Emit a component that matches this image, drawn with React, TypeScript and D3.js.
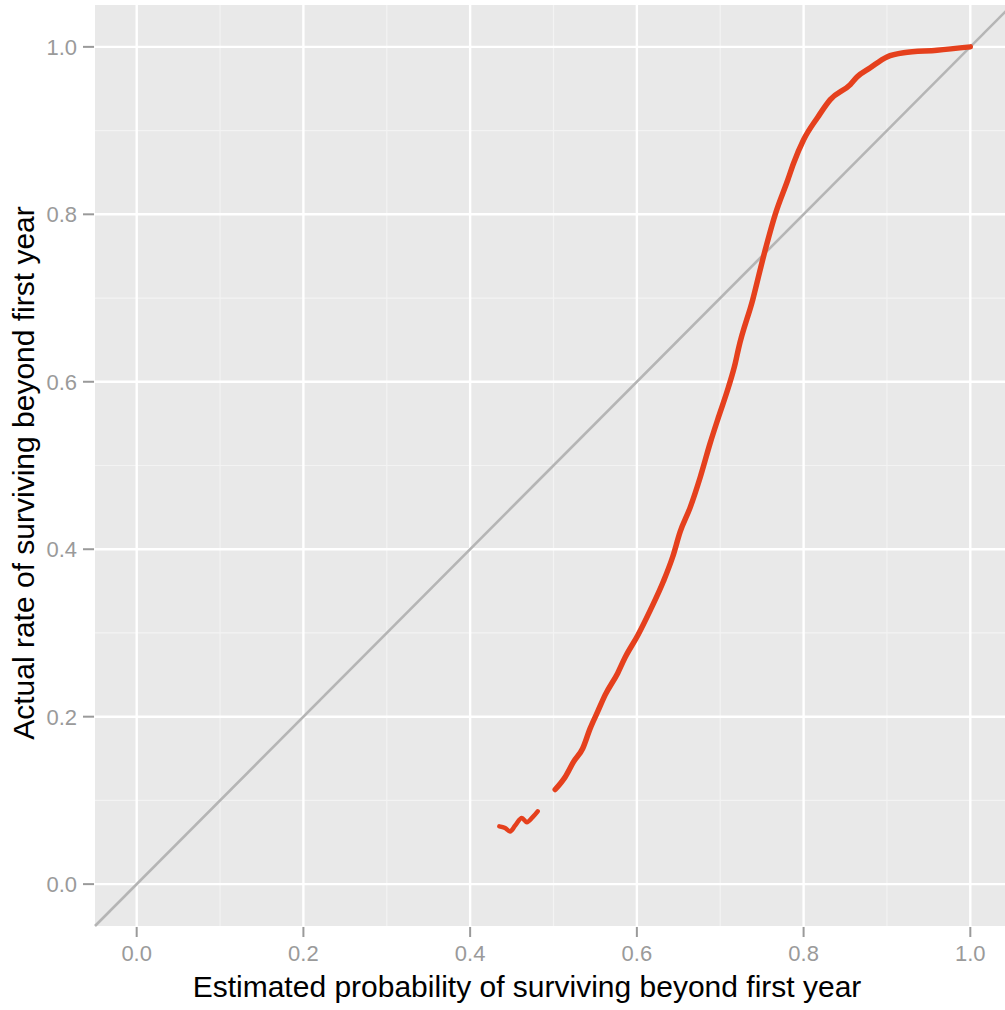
import React, { useRef, useEffect } from 'react';
import * as d3 from 'd3';

// sparse low-end cluster (estimated prob, actual rate)
const lowX = [0.435, 0.442, 0.448, 0.454, 0.462, 0.468, 0.475, 0.481];
const lowY = [0.069, 0.067, 0.063, 0.070, 0.079, 0.074, 0.080, 0.087];

// main calibration curve
const mainX = [0.502, 0.514, 0.524, 0.535, 0.544, 0.553, 0.562, 0.577, 0.586, 0.601, 0.616, 0.632, 0.643,
  0.652, 0.664, 0.676, 0.688, 0.698, 0.710, 0.718, 0.722, 0.739, 0.752, 0.766, 0.781, 0.788, 0.800,
  0.817, 0.832, 0.856, 0.864, 0.880, 0.900, 0.920, 0.960, 1.0];
const mainY = [0.113, 0.128, 0.146, 0.162, 0.186, 0.206, 0.226, 0.252, 0.271, 0.297, 0.327, 0.362, 0.391,
  0.421, 0.450, 0.486, 0.527, 0.558, 0.594, 0.622, 0.640, 0.698, 0.750, 0.800, 0.841, 0.861, 0.889,
  0.916, 0.937, 0.955, 0.964, 0.975, 0.988, 0.993, 0.996, 1.0];

const majorTicks = [0, 0.2, 0.4, 0.6, 0.8, 1.0];
const minorTicks = [0.1, 0.3, 0.5, 0.7, 0.9];
const domain: [number, number] = [-0.05, 1.05];

const App = () => {
  const svgRef = useRef<SVGSVGElement>(null);

  useEffect(() => {
    const svg = d3.select(svgRef.current);
    svg.selectAll('*').remove();

    const width = 1005;
    const height = 1010;
    const left = 95, top = 5;
    const panelW = 917, panelH = 921;

    const x = d3.scaleLinear().domain(domain).range([left, left + panelW]);
    const y = d3.scaleLinear().domain(domain).range([top + panelH, top]);

    const font = '"Liberation Sans", Arial, sans-serif';

    svg.attr('width', width).attr('height', height);

    // panel background
    svg.append('rect')
      .attr('x', left).attr('y', top)
      .attr('width', panelW).attr('height', panelH)
      .attr('fill', '#e9e9e9');

    // minor grid
    minorTicks.forEach(t => {
      svg.append('line')
        .attr('x1', x(t)).attr('x2', x(t)).attr('y1', top).attr('y2', top + panelH)
        .attr('stroke', '#f3f3f3').attr('stroke-width', 1.2);
      svg.append('line')
        .attr('x1', left).attr('x2', left + panelW).attr('y1', y(t)).attr('y2', y(t))
        .attr('stroke', '#f3f3f3').attr('stroke-width', 1.2);
    });

    // major grid
    majorTicks.forEach(t => {
      svg.append('line')
        .attr('x1', x(t)).attr('x2', x(t)).attr('y1', top).attr('y2', top + panelH)
        .attr('stroke', '#ffffff').attr('stroke-width', 2.4);
      svg.append('line')
        .attr('x1', left).attr('x2', left + panelW).attr('y1', y(t)).attr('y2', y(t))
        .attr('stroke', '#ffffff').attr('stroke-width', 2.4);
    });

    // diagonal reference line
    svg.append('line')
      .attr('x1', x(domain[0])).attr('y1', y(domain[0]))
      .attr('x2', x(domain[1])).attr('y2', y(domain[1]))
      .attr('stroke', '#b5b5b5').attr('stroke-width', 2.6);

    const line = d3.line<[number, number]>()
      .x(d => x(d[0]))
      .y(d => y(d[1]))
      .curve(d3.curveMonotoneX);

    const lowData = lowX.map((v, i) => [v, lowY[i]] as [number, number]);
    const mainData = mainX.map((v, i) => [v, mainY[i]] as [number, number]);

    svg.append('path')
      .attr('d', line(lowData))
      .attr('fill', 'none')
      .attr('stroke', '#e5401d').attr('stroke-width', 4.5)
      .attr('stroke-linecap', 'round').attr('stroke-linejoin', 'round');

    svg.append('path')
      .attr('d', line(mainData))
      .attr('fill', 'none')
      .attr('stroke', '#e5401d').attr('stroke-width', 5.5)
      .attr('stroke-linecap', 'round').attr('stroke-linejoin', 'round');

    // x axis ticks + labels
    majorTicks.forEach(t => {
      svg.append('line')
        .attr('x1', x(t)).attr('x2', x(t)).attr('y1', top + panelH + 1).attr('y2', top + panelH + 11)
        .attr('stroke', '#9a9a9a').attr('stroke-width', 2);
      svg.append('text')
        .attr('x', x(t)).attr('y', 961)
        .attr('text-anchor', 'middle')
        .style('font-family', font).style('font-size', '22px')
        .attr('fill', '#9a9a9a')
        .text(d3.format('.1f')(t));
    });

    // y axis ticks + labels
    majorTicks.forEach(t => {
      svg.append('line')
        .attr('x1', left - 12).attr('x2', left - 1).attr('y1', y(t)).attr('y2', y(t))
        .attr('stroke', '#9a9a9a').attr('stroke-width', 2);
      svg.append('text')
        .attr('x', 77).attr('y', y(t) + 8)
        .attr('text-anchor', 'end')
        .style('font-family', font).style('font-size', '22px')
        .attr('fill', '#9a9a9a')
        .text(d3.format('.1f')(t));
    });

    // axis titles
    svg.append('text')
      .attr('x', 527).attr('y', 997)
      .attr('text-anchor', 'middle')
      .style('font-family', font).style('font-size', '30px')
      .attr('fill', '#000')
      .text('Estimated probability of surviving beyond first year');

    svg.append('text')
      .attr('transform', `translate(34,473) rotate(-90)`)
      .attr('text-anchor', 'middle')
      .style('font-family', font).style('font-size', '30px')
      .attr('fill', '#000')
      .text('Actual rate of surviving beyond first year');
  }, []);

  return (
    <div style={{ position: 'absolute', left: 0, top: 0, width: 1005, height: 1010, overflow: 'hidden', background: '#fff' }}>
      <svg ref={svgRef} style={{ display: 'block' }}></svg>
    </div>
  );
};

export default App;
